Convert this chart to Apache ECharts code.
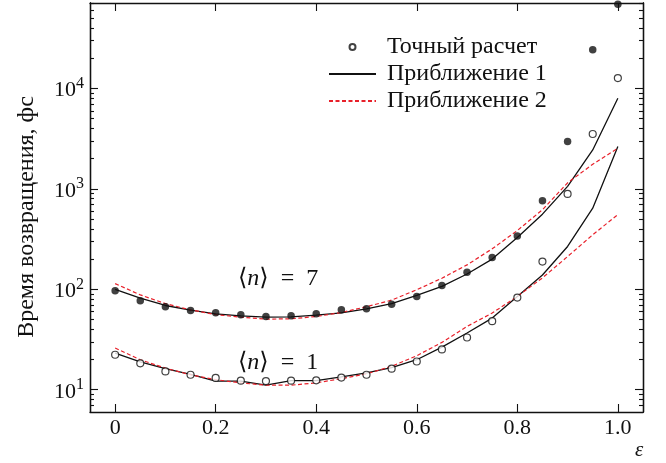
<!DOCTYPE html>
<html lang="ru">
<head>
<meta charset="UTF-8">
<title>Время возвращения</title>
<script src="https://cdn.jsdelivr.net/npm/echarts@6/dist/echarts.min.js"></script>
<style>
    html, body {margin: 0; padding: 0; background: #fff;}
    #main {width: 666px; height: 463px;}
</style>
</head>
<body>
<div id="main"></div>
<script>
    // параметр eps
    var eps = [0, 0.05, 0.1, 0.15, 0.2, 0.25, 0.3, 0.35, 0.4, 0.45, 0.5,
        0.55, 0.6, 0.65, 0.7, 0.75, 0.8, 0.85, 0.9, 0.95, 1.0];

    // <n> = 1
    var exact1 = [22.3, 18.3, 15.2, 14.1, 13.1, 12.3, 12.2, 12.3, 12.4, 13.2, 14.1,
        16.2, 19.1, 25.2, 33.1, 48.2, 82.8, 189, 891, 3520, 12700];
    var approxA1 = [23.2, 18.9, 16.2, 14.2, 12.2, 12.2, 11.1, 12.3, 12.3, 13.4, 14.7,
        16.6, 19.9, 26.6, 36.7, 51.7, 84.9, 139, 267, 643, 2640];
    var approxB1 = [26, 19.9, 16.4, 14.1, 12.6, 11.7, 11.1, 11.1, 11.7, 12.9, 14.4,
        17.1, 21.8, 29.6, 42.7, 58, 84.9, 130, 212, 349, 555];

    // <n> = 7
    var exact7 = [96.6, 77, 67, 61.5, 58.3, 55.7, 53.5, 54.5, 57, 62.5, 64,
        71, 84.7, 109, 148, 207, 340, 760, 2960, 24300, 69000];
    var approxA7 = [100, 81.7, 69, 62, 57, 54.5, 52.8, 53.2, 55.4, 58.2, 64,
        72, 87, 107, 142, 200, 328, 560, 1060, 2440, 8000];
    var approxB7 = [114, 88, 72, 62.4, 56, 52.8, 50.5, 50.8, 53.6, 58.8, 67,
        78, 99, 129, 175, 253, 385, 620, 1150, 1760, 2540];

    var xTicks = [0, 0.2, 0.4, 0.6, 0.8, 1.0];
    var yMajor = [10, 100, 1000, 10000];
    var yMinor = [7, 8, 9, 20, 30, 40, 50, 60, 70, 80, 90, 200, 300, 400, 500, 600, 700, 800, 900,
        2000, 3000, 4000, 5000, 6000, 7000, 8000, 9000, 20000, 30000, 40000, 50000, 60000, 70000];

    var serif = '"Liberation Serif", "DejaVu Serif", serif';
    var ink = '#111';

    function pairs(arr) {
        return eps.map(function (e, i) { return [e, arr[i]]; });
    }

    function yAxisDef(pos, ticks, len, labels) {
        return {
            type: 'log', position: pos, min: 6, max: 71000,
            axisLine: {show: true, onZero: false, lineStyle: {color: ink, width: 1.3}},
            axisTick: {show: true, inside: true, length: len, customValues: ticks,
                lineStyle: {color: ink, width: 1.1}},
            axisLabel: labels ? {
                show: true, margin: 6, customValues: ticks,
                formatter: function (v) {
                    return '{b|10}{s|' + Math.round(Math.log10(v)) + '}';
                },
                rich: {
                    b: {fontFamily: serif, fontSize: 22, color: ink, verticalAlign: 'bottom', padding: [4, 0, 0, 0]},
                    s: {fontFamily: serif, fontSize: 16, color: ink, verticalAlign: 'top'}
                }
            } : {show: false},
            splitLine: {show: false}
        };
    }

    function xAxisDef(pos, labels) {
        return {
            type: 'value', position: pos, min: -0.05, max: 1.05,
            axisLine: {show: true, onZero: false, lineStyle: {color: ink, width: 1.3}},
            axisTick: {show: true, inside: true, length: 8, customValues: xTicks,
                lineStyle: {color: ink, width: 1.1}},
            axisLabel: labels ? {
                show: true, margin: 5, customValues: xTicks,
                fontFamily: serif, fontSize: 22, color: ink,
                formatter: function (v) { return v === 0 ? '0' : v.toFixed(1); }
            } : {show: false},
            splitLine: {show: false}
        };
    }

    var lineA = {color: ink, width: 1.3, type: 'solid'};
    var lineB = {color: '#e8202a', width: 1.2, type: [4, 2.5]};

    var option = {
        backgroundColor: '#fff',
        animation: false,
        grid: {left: 90, right: 23, top: 3, bottom: 51, outerBoundsMode: 'none'},
        xAxis: [xAxisDef('bottom', true), xAxisDef('top', false)],
        yAxis: [
            yAxisDef('left', yMajor, 8, true),
            yAxisDef('left', yMinor, 4, false),
            yAxisDef('right', yMajor, 8, false),
            yAxisDef('right', yMinor, 4, false)
        ],
        legend: {
            orient: 'vertical', left: 323, top: 30, itemGap: 3,
            itemWidth: 47, itemHeight: 6,
            textStyle: {fontFamily: serif, fontSize: 24, color: ink, padding: [0, 0, 0, 6]},
            data: [
                {name: 'Точный расчет'},
                {name: 'Приближение 1', itemStyle: {opacity: 0}},
                {name: 'Приближение 2', itemStyle: {opacity: 0}}
            ]
        },
        graphic: [
            {type: 'text', x: 27, y: 217, rotation: Math.PI / 2, style: {
                text: 'Время возвращения, фс', fontFamily: serif, fontSize: 24, fill: ink,
                align: 'center', verticalAlign: 'middle'}},
            {type: 'text', left: 238, top: 267, style: {
                text: '⟨{i|n}⟩  =  7', fontFamily: serif, fontSize: 24, fill: ink,
                rich: {i: {fontFamily: serif, fontStyle: 'italic', fontSize: 24, fill: ink}}}},
            {type: 'text', left: 238, top: 351, style: {
                text: '⟨{i|n}⟩  =  1', fontFamily: serif, fontSize: 24, fill: ink,
                rich: {i: {fontFamily: serif, fontStyle: 'italic', fontSize: 24, fill: ink}}}},
            {type: 'text', left: 635, top: 440, style: {
                text: 'ε', fontFamily: serif, fontStyle: 'italic', fontSize: 21, fill: ink}}
        ],
        series: [
            {name: 'Приближение 1', type: 'line', data: pairs(approxA1), symbol: 'none', lineStyle: lineA, color: ink},
            {name: 'Приближение 1', type: 'line', data: pairs(approxA7), symbol: 'none', lineStyle: lineA, color: ink},
            {name: 'Приближение 2', type: 'line', data: pairs(approxB1), symbol: 'none', lineStyle: lineB, color: '#e8202a'},
            {name: 'Приближение 2', type: 'line', data: pairs(approxB7), symbol: 'none', lineStyle: lineB, color: '#e8202a'},
            {name: 'Точный расчет', type: 'scatter', data: pairs(exact1), symbol: 'circle', symbolSize: 7,
                itemStyle: {color: '#fff', borderColor: ink, borderWidth: 1.2}, z: 5},
            {name: 'Точный расчет', type: 'scatter', data: pairs(exact7), symbol: 'circle', symbolSize: 7.5,
                itemStyle: {color: ink}, z: 5}
        ]
    };

    var myChart = echarts.init(document.getElementById('main'));
    myChart.setOption(option);
</script>
</body>
</html>
